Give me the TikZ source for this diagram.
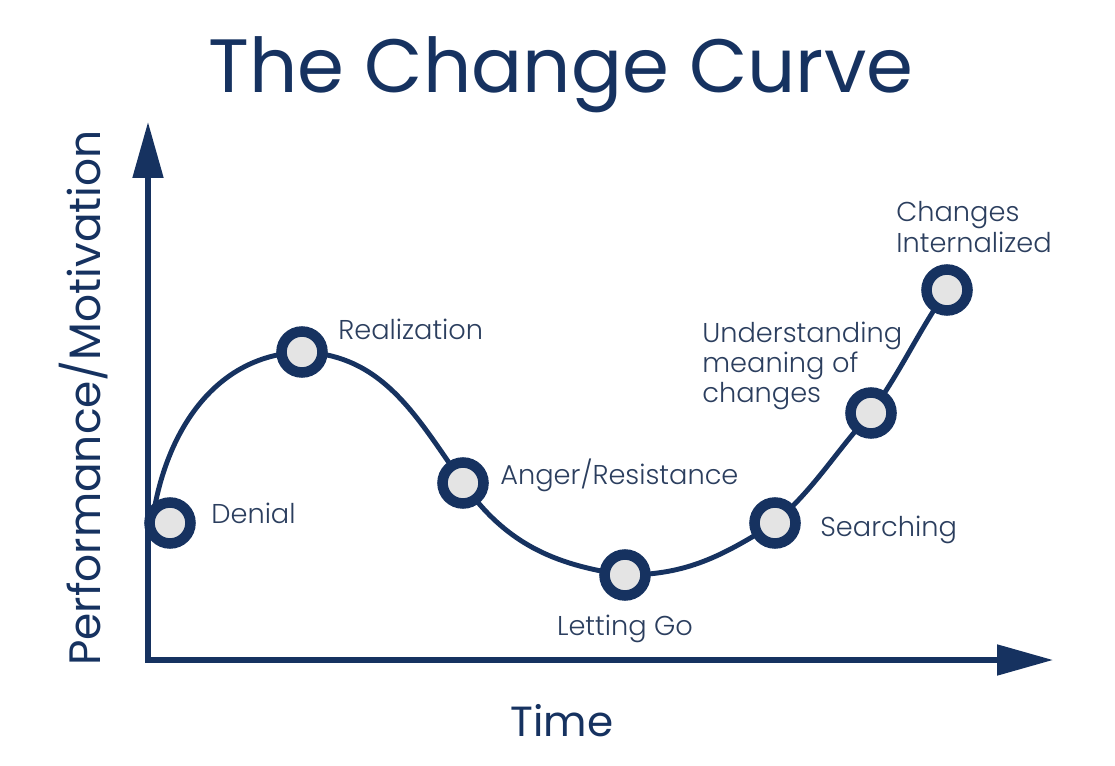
\documentclass[tikz,border=0pt]{standalone}
\usepackage{fontspec}
\setmainfont{Poppins}
\newfontfamily\lightfont{Poppins}[UprightFont=* Light]
\usetikzlibrary{arrows.meta}
\definecolor{navy}{HTML}{163260}
\definecolor{inknavy}{HTML}{2B3E5E}
\definecolor{dotgrey}{HTML}{E4E4E4}
\tikzstyle{axis} = [draw=navy, line width=2.9pt, line cap=rect, -{Triangle[length=1.12cm,width=0.6cm]}]
\tikzstyle{curve} = [draw=navy, line width=2.8pt]
\tikzstyle{stage} = [circle, draw=navy, line width=6pt, fill=dotgrey, minimum size=0.82cm, inner sep=0pt]
\tikzstyle{lbl} = [text=inknavy, inner sep=0pt, align=left, font=\lightfont\fontsize{15.5}{15.5}\selectfont]
\tikzstyle{heading} = [text=navy, inner sep=0pt, font=\fontsize{43}{43}\selectfont]
\tikzstyle{axislbl} = [text=navy, inner sep=0pt, font=\fontsize{24}{24}\selectfont]

\begin{document}
\begin{tikzpicture}[x=0.02cm, y=-0.02cm]
    \useasboundingbox (0,0) rectangle (1115,766);
    \node[heading, anchor=base] (title) at (561,93) {The Change Curve};
    % axes
    \coordinate (origin) at (148,660);
    \coordinate (ytip) at (148,122);
    \coordinate (xtip) at (1053,660);
    \draw[axis] (origin) -- (ytip);
    \draw[axis] (origin) -- (xtip);
    \node[axislbl, anchor=base] (time) at (562,736) {Time};
    \node[axislbl, anchor=base, rotate=90, font=\fontsize{25}{25}\selectfont] (perf) at (100,398) {Performance/Motivation};
    % the curve
    \coordinate (start) at (151,532);
    \coordinate (denial) at (170,523);
    \coordinate (realization) at (302,352);
    \coordinate (anger) at (463,483);
    \coordinate (lettinggo) at (625,575);
    \coordinate (searching) at (775,523);
    \coordinate (understanding) at (871,413);
    \coordinate (internalized) at (947,290);
    \draw[curve] (start) to[out=84,in=182] (realization) to[out=-2,in=125] (anger)
        to[out=-55,in=172] (lettinggo) to[out=0,in=212] (searching)
        to[out=42,in=228] (understanding) to[out=55,in=236] (internalized);
    \foreach \s in {denial,realization,anger,lettinggo,searching,understanding,internalized}
        \node[stage] (\s dot) at (\s) {};
    % labels
    \node[lbl, anchor=base west] (denialtxt) at (211,523) {Denial};
    \node[lbl, anchor=base west] (realizationtxt) at (338,340) {Realization};
    \node[lbl, anchor=base west] (angertxt) at (500,484) {Anger/Resistance};
    \node[lbl, anchor=base] (lettinggotxt) at (625,635) {Letting Go};
    \node[lbl, anchor=base west] (searchingtxt) at (820,536) {Searching};
    \node[lbl, anchor=base west] (understandingtxt) at (702,343) {Understanding};
    \node[lbl, anchor=base west] (meaningtxt) at (702,373) {meaning of};
    \node[lbl, anchor=base west] (changestxt) at (702,403) {changes};
    \node[lbl, anchor=base west] (changesinttxt) at (896,222) {Changes};
    \node[lbl, anchor=base west] (internalizedtxt) at (896,253) {Internalized};
\end{tikzpicture}
\end{document}
